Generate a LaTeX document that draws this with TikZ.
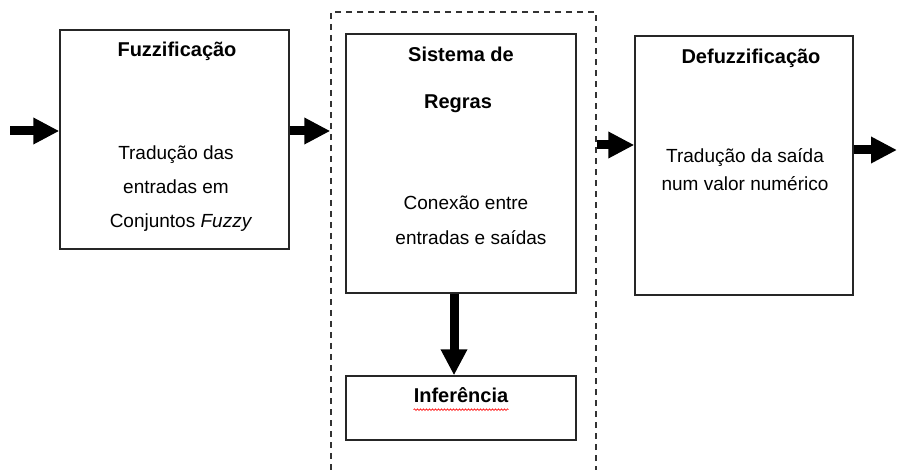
\documentclass[tikz,border=0pt]{standalone}
\usepackage{fontspec}
\setmainfont{Liberation Sans}
\usetikzlibrary{arrows.meta,decorations.pathmorphing}
\begin{document}
\begin{tikzpicture}[x=1pt,y=1pt,
  box/.style={draw=black!85,line width=1.4pt,rectangle,inner sep=0pt},
  frame/.style={draw=black!80,line width=1.4pt,dash pattern=on 6pt off 5pt,rectangle,inner sep=0pt},
  txt/.style={font=\fontsize{19}{22}\selectfont,anchor=mid,inner sep=0pt},
  ttl/.style={txt,font=\fontsize{20}{23}\selectfont\bfseries},
  bigarrow/.style={line width=9pt,-{Triangle[length=26pt,width=25pt]}}]
\useasboundingbox (0,0) rectangle (910,-470);
% boxes
\node[box,minimum width=229pt,minimum height=219pt] (fuzz) at (174.5,-139.5) {};
\node[frame,minimum width=265pt,minimum height=470pt] (fr) at (463.5,-247) {};
\node[box,minimum width=230pt,minimum height=259pt] (rules) at (461,-163.5) {};
\node[box,minimum width=218pt,minimum height=259pt] (defuzz) at (744,-165.5) {};
\node[box,minimum width=230pt,minimum height=64pt] (inf) at (461,-408) {};
% texts
\node[ttl] (t1) at (177,-54) {Fuzzificação};
\node[txt] (t2) at (176,-157) {Tradução das};
\node[txt] (t3) at (176,-191) {entradas em};
\node[txt] (t4) at (181,-225) {Conjuntos \textit{Fuzzy}};
\node[ttl] (s1) at (461,-59) {Sistema de};
\node[ttl] (s2) at (458,-106) {Regras};
\node[txt] (s3) at (466,-207) {Conexão entre};
\node[txt] (s4) at (471,-242) {entradas e saídas};
\node[ttl] (d1) at (751,-61) {Defuzzificação};
\node[txt] (d2) at (745,-160) {Tradução da saída};
\node[txt] (d3) at (745,-188) {num valor numérico};
\node[ttl] (i1) at (461,-400) {Inferência};
\draw[red,line width=0.6pt,decorate,decoration={snake,amplitude=0.9pt,segment length=3pt}]
  ([yshift=-7pt]i1.base west) -- ([yshift=-7pt]i1.base east);
% arrows
\coordinate (in) at (10,-131);
\coordinate (out) at (897,-150);
\draw[bigarrow] (in) -- (fuzz.west |- in);
\draw[bigarrow] (fuzz.east |- 0,-131) -- (fr.west |- 0,-131);
\draw[bigarrow] (fr.east |- 0,-145) -- (defuzz.west |- 0,-145);
\draw[bigarrow] (defuzz.east |- out) -- (out);
\draw[bigarrow] (rules.south -| 454,0) -- (inf.north -| 454,0);
\end{tikzpicture}
\end{document}
